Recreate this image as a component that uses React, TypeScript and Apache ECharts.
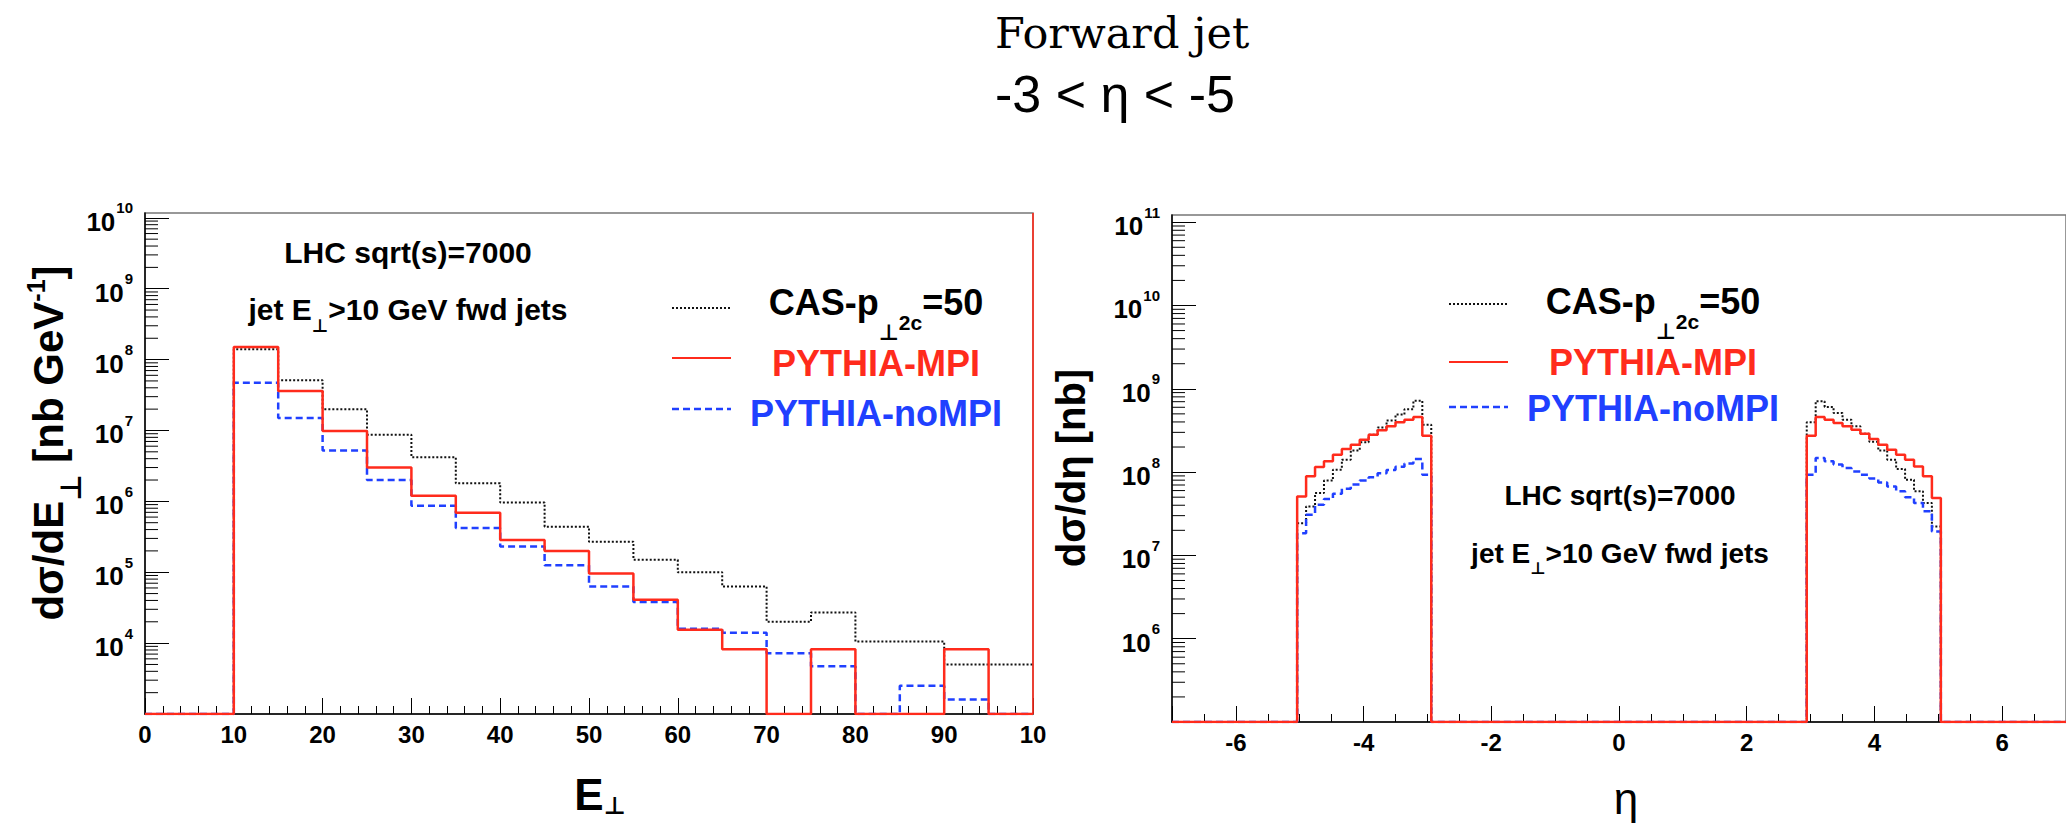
import React, { useEffect, useRef } from 'react';
import * as echarts from 'echarts';

// ---------------- data ----------------
// Left panel: E_perp histogram, 5 GeV bins from 0 to 100 (null = empty bin)
const etBinLowEdges = [0, 5, 10, 15, 20, 25, 30, 35, 40, 45, 50, 55, 60, 65, 70, 75, 80, 85, 90, 95];
const etBinWidth = 5;
const etCAS = [null, null, 1.4e8, 5.1e7, 2.0e7, 8.7e6, 4.2e6, 1.8e6, 9.6e5, 4.4e5, 2.7e5, 1.5e5, 1.0e5, 6.3e4, 2.0e4, 2.7e4, 1.05e4, 1.05e4, 5.0e3, 5.0e3];
const etMPI = [null, null, 1.5e8, 3.6e7, 9.8e6, 3.0e6, 1.2e6, 6.9e5, 2.85e5, 2.0e5, 9.6e4, 4.1e4, 1.55e4, 8.2e3, null, 8.2e3, null, null, 8.2e3, null];
const etNoMPI = [null, null, 4.7e7, 1.5e7, 5.2e6, 2.0e6, 8.7e5, 4.2e5, 2.3e5, 1.25e5, 6.3e4, 3.8e4, 1.6e4, 1.4e4, 7.2e3, 4.7e3, null, 2.5e3, 1.6e3, null];
const etXRange = [0, 100];
const etYRange = [1e3, 1.17e10];

// Right panel: eta histogram, bins of 0.14 in [-7, 7]; only the two forward humps are filled
const etaXRange = [-7, 7];
const etaYRange = [1e5, 1.22e11];
const etaBinWidth = 0.14;
const etaNegHumpStart = -5.04;
const etaPosHumpStart = 2.94;
const etaNegCAS = [2.44e7, 3.87e7, 5.6e7, 7.9e7, 1.07e8, 1.41e8, 1.82e8, 2.28e8, 2.81e8, 3.44e8, 4.15e8, 4.9e8, 5.7e8, 7.2e8, 3.7e8];
const etaNegMPI = [5.1e7, 8.9e7, 1.15e8, 1.35e8, 1.62e8, 1.89e8, 2.13e8, 2.45e8, 2.81e8, 3.17e8, 3.54e8, 3.96e8, 4.26e8, 4.59e8, 2.73e8];
const etaNegNoMPI = [1.85e7, 3.08e7, 4.06e7, 4.75e7, 5.5e7, 6.3e7, 7.1e7, 7.9e7, 8.7e7, 9.7e7, 1.06e8, 1.16e8, 1.27e8, 1.44e8, 9.3e7];
const etaPosCAS = [3.96e8, 7.1e8, 6.06e8, 5.13e8, 4.26e8, 3.54e8, 2.89e8, 2.32e8, 1.82e8, 1.41e8, 1.09e8, 8.1e7, 5.9e7, 4.25e7, 2.23e7];
const etaPosMPI = [2.73e8, 4.59e8, 4.26e8, 3.89e8, 3.54e8, 3.23e8, 2.89e8, 2.5e8, 2.13e8, 1.86e8, 1.62e8, 1.41e8, 1.17e8, 8.9e7, 4.9e7];
const etaPosNoMPI = [9.3e7, 1.48e8, 1.35e8, 1.23e8, 1.12e8, 1.02e8, 9.3e7, 8.4e7, 7.5e7, 6.7e7, 5.9e7, 5.0e7, 4.25e7, 3.4e7, 1.94e7];

const seriesNames = ['CAS-p⊥2c=50', 'PYTHIA-MPI', 'PYTHIA-noMPI'];
const etXTickLabels: Record<number, string> = { 100: '10' };

// ---------------- styling ----------------
const FONT = "'Liberation Sans', Arial, Helvetica, 'DejaVu Sans', sans-serif";
const RED = '#ff2b1c';
const BLUE = '#2040ff';
const BLACK = '#111111';

const r4 = (v: number) => Math.round(v * 10000) / 10000;

function histPoints(lowEdges: number[], width: number, values: (number | null)[], floor: number) {
  const pts: number[][] = lowEdges.map((e, i) => [e, values[i] ?? floor]);
  const last = lowEdges.length - 1;
  pts.push([lowEdges[last] + width, values[last] ?? floor]);
  return pts;
}

function etaPoints(neg: number[], pos: number[], floor: number) {
  const pts: number[][] = [[etaXRange[0], floor]];
  neg.forEach((v, i) => pts.push([r4(etaNegHumpStart + i * etaBinWidth), v]));
  pts.push([r4(etaNegHumpStart + neg.length * etaBinWidth), floor]);
  pos.forEach((v, i) => pts.push([r4(etaPosHumpStart + i * etaBinWidth), v]));
  pts.push([r4(etaPosHumpStart + pos.length * etaBinWidth), floor]);
  pts.push([etaXRange[1], floor]);
  return pts;
}

function logMinorTicks(min: number, max: number) {
  const out: number[] = [];
  for (let n = Math.floor(Math.log10(min)); n <= Math.ceil(Math.log10(max)); n++) {
    for (let k = 2; k <= 9; k++) {
      const v = k * Math.pow(10, n);
      if (v > min && v < max) out.push(v);
    }
  }
  return out;
}

const lineStyles = [
  { color: BLACK, width: 2, type: [2, 2] as number[] },
  { color: RED, width: 2.5, type: 'solid' as const },
  { color: BLUE, width: 2.5, type: [7, 4] as number[] },
];

function histSeries(name: string, idx: number, data: number[][], style: any, extra: any = {}) {
  return {
    type: 'line',
    name,
    xAxisIndex: idx,
    yAxisIndex: idx,
    data,
    step: 'end',
    symbol: 'none',
    showSymbol: false,
    lineStyle: { ...style, cap: 'butt' },
    silent: true,
    ...extra,
  };
}

function minorTickSeries(idx: number, xmin: number, vals: number[]) {
  return {
    type: 'custom',
    xAxisIndex: idx,
    yAxisIndex: idx,
    silent: true,
    clip: false,
    z: 5,
    data: vals.map((v) => [xmin, v]),
    renderItem: (_p: any, api: any) => {
      const pt = api.coord([api.value(0), api.value(1)]);
      return {
        type: 'line',
        shape: { x1: pt[0], y1: pt[1], x2: pt[0] + 13, y2: pt[1] },
        style: { stroke: '#000', lineWidth: 1 },
      };
    },
  };
}

const yLabelRich = {
  b: { fontSize: 26, fontWeight: 'bold', fontFamily: FONT, color: '#000', padding: [8, 0, 0, 0], verticalAlign: 'middle' },
  s: { fontSize: 15, fontWeight: 'bold', fontFamily: FONT, color: '#000', padding: [0, 0, 20, 1], verticalAlign: 'middle' },
};

function yAxis(idx: number, range: number[]) {
  return {
    type: 'log',
    gridIndex: idx,
    min: range[0],
    max: range[1],
    logBase: 10,
    axisLine: { show: true, onZero: false, lineStyle: { color: '#000', width: 1.5 } },
    axisTick: { show: true, inside: true, length: 24, lineStyle: { color: '#000', width: 1 } },
    minorTick: { show: false },
    splitLine: { show: false },
    axisLabel: {
      show: true,
      margin: 12,
      showMinLabel: false,
      showMaxLabel: false,
      formatter: (v: number) => {
        const n = Math.log10(v);
        const r = Math.round(n);
        if (Math.abs(n - r) > 1e-6 || v <= range[0] * 1.0001) return '';
        return `{b|10}{s|${r}}`;
      },
      rich: yLabelRich,
    },
  };
}

function richText(size: number, color: string, weight = 'bold') {
  return {
    a: { fontSize: size, fontWeight: weight, fontFamily: FONT, fill: color, verticalAlign: 'middle' },
  };
}

function textEl(x: number, y: number, text: string, rich: any, extra: any = {}, align = 'center') {
  return {
    type: 'text',
    x,
    y,
    silent: true,
    ...extra,
    style: { text, rich, align, verticalAlign: 'middle' },
  };
}

function annotation(cx: number, y1: number, y2: number, size: number) {
  const rich = {
    ...richText(size, '#000'),
    s: { fontSize: size * 0.6, fontWeight: 'bold', fontFamily: FONT, fill: '#000', padding: [size * 1.1, 0, 0, 0], verticalAlign: 'middle' },
  };
  return [
    textEl(cx, y1, '{a|LHC sqrt(s)=7000}', rich),
    textEl(cx, y2, '{a|jet E}{s|⊥}{a|>10 GeV fwd jets}', rich),
  ];
}

function legendBlock(lineX1: number, lineX2: number, lineYs: number[], textCx: number, textYs: number[]) {
  const size = 36;
  const casRich = {
    ...richText(size, '#000'),
    s1: { fontSize: 22, fontWeight: 'bold', fontFamily: "'DejaVu Sans', sans-serif", fill: '#000', padding: [60, 0, 0, 0], verticalAlign: 'middle' },
    s2: { fontSize: 21, fontWeight: 'bold', fontFamily: FONT, fill: '#000', padding: [40, 0, 0, 0], verticalAlign: 'middle' },
  };
  const els: any[] = [];
  lineStyles.forEach((ls, i) => {
    els.push({
      type: 'line',
      silent: true,
      shape: { x1: lineX1, y1: lineYs[i], x2: lineX2, y2: lineYs[i] },
      style: { stroke: ls.color, lineWidth: i === 1 ? 2 : ls.width, lineDash: Array.isArray(ls.type) ? ls.type : null },
    });
  });
  els.push(textEl(textCx, textYs[0], '{a|CAS-p}{s1|⊥}{s2|2c}{a|=50}', casRich));
  els.push(textEl(textCx, textYs[1], '{a|PYTHIA-MPI}', richText(size, RED)));
  els.push(textEl(textCx, textYs[2], '{a|PYTHIA-noMPI}', richText(size, BLUE)));
  return els;
}

function buildOption() {
  const etFloor = etYRange[0];
  const etaFloor = etaYRange[0];
  const etData = [etCAS, etMPI, etNoMPI].map((v) => histPoints(etBinLowEdges, etBinWidth, v, etFloor));
  const etaData = [
    etaPoints(etaNegCAS, etaPosCAS, etaFloor),
    etaPoints(etaNegMPI, etaPosMPI, etaFloor),
    etaPoints(etaNegNoMPI, etaPosNoMPI, etaFloor),
  ];
  const drawOrder = [0, 2, 1]; // black, blue, red on top

  const series: any[] = [];
  drawOrder.forEach((i) => {
    series.push(
      histSeries(seriesNames[i], 0, etData[i], lineStyles[i],
        i === 1
          ? {
              markLine: {
                silent: true,
                symbol: 'none',
                label: { show: false },
                lineStyle: { color: RED, width: 2, type: 'solid', opacity: 0.8 },
                data: [{ xAxis: etXRange[1] }],
              },
            }
          : {})
    );
  });
  drawOrder.forEach((i) => series.push(histSeries(seriesNames[i], 1, etaData[i], lineStyles[i])));
  series.push(minorTickSeries(0, etXRange[0], logMinorTicks(etYRange[0], etYRange[1])));
  series.push(minorTickSeries(1, etaXRange[0], logMinorTicks(etaYRange[0], etaYRange[1])));

  const xLabel = { show: true, margin: 8, fontSize: 24, fontWeight: 'bold', fontFamily: FONT, color: '#000' };
  const sub = (size: number, pad: number) => ({
    fontSize: size, fontWeight: 'bold', fontFamily: "'DejaVu Sans', sans-serif", fill: '#000', padding: [pad, 0, 0, 0], verticalAlign: 'middle',
  });
  const sup = (size: number, pad: number) => ({
    fontSize: size, fontWeight: 'bold', fontFamily: FONT, fill: '#000', padding: [0, 0, pad, 0], verticalAlign: 'middle',
  });

  const graphic: any[] = [
    // page title
    {
      type: 'text', x: 995, y: 33, silent: true,
      style: { text: 'Forward jet', fontSize: 43, fontFamily: "'DejaVu Serif', 'Liberation Serif', serif", fill: '#000', align: 'left', verticalAlign: 'middle' },
    },
    {
      type: 'text', x: 995, y: 94, silent: true,
      style: { text: '-3 < η < -5', fontSize: 52, fontFamily: FONT, fill: '#000', align: 'left', verticalAlign: 'middle' },
    },
    // y-axis titles
    textEl(48, 443, '{a|dσ/dE}{sub|⊥}{a| [nb GeV}{sup|-1}{a|]}',
      { ...richText(42, '#000'), sub: sub(29, 46), sup: sup(25, 25) }, { rotation: Math.PI / 2 }),
    textEl(1071, 468, '{a|dσ/dη [nb]}', richText(40, '#000'), { rotation: Math.PI / 2 }),
    // x-axis titles
    textEl(600, 794, '{a|E}{sub|⊥}', { ...richText(44, '#000'), sub: sub(24, 24) }),
    textEl(1626, 798, '{a|η}', richText(44, '#000', 'normal')),
    ...annotation(408, 252, 309, 30),
    ...annotation(1620, 495, 553, 28),
    ...legendBlock(672, 731, [308, 358, 409], 876, [302, 363, 413]),
    ...legendBlock(1449, 1508, [304, 362, 407], 1653, [301, 362, 408]),
  ];

  return {
    animation: false,
    backgroundColor: '#ffffff',
    grid: [
      { left: 145, top: 213, width: 888, height: 501, show: true, borderColor: '#777', borderWidth: 1.5, containLabel: false },
      { left: 1172, top: 215, width: 900, height: 507, show: true, borderColor: '#777', borderWidth: 1.5, containLabel: false },
    ],
    xAxis: [
      {
        type: 'value', gridIndex: 0, min: etXRange[0], max: etXRange[1], interval: 10,
        axisLine: { show: true, onZero: false, lineStyle: { color: '#000', width: 1.5 } },
        axisTick: { show: true, inside: true, length: 16, lineStyle: { color: '#000', width: 1 } },
        minorTick: { show: true, splitNumber: 5, length: 8, lineStyle: { color: '#000', width: 1 } },
        splitLine: { show: false },
        axisLabel: { ...xLabel, formatter: (v: number) => etXTickLabels[v] ?? String(v) },
      },
      {
        type: 'value', gridIndex: 1, min: etaXRange[0], max: etaXRange[1], splitNumber: 7,
        axisLine: { show: true, onZero: false, lineStyle: { color: '#000', width: 1.5 } },
        axisTick: { show: true, inside: true, length: 16, lineStyle: { color: '#000', width: 1 } },
        minorTick: { show: true, splitNumber: 4, length: 8, lineStyle: { color: '#000', width: 1 } },
        splitLine: { show: false },
        axisLabel: { ...xLabel, showMinLabel: false, showMaxLabel: false },
      },
    ],
    yAxis: [yAxis(0, etYRange), yAxis(1, etaYRange)],
    series,
    graphic,
  };
}

export default function App() {
  const ref = useRef<HTMLDivElement>(null);
  useEffect(() => {
    if (!ref.current) return;
    const chart = echarts.init(ref.current, null, { renderer: 'svg' });
    chart.setOption(buildOption() as any);
    return () => chart.dispose();
  }, []);
  return (
    <div
      ref={ref}
      style={{ position: 'absolute', left: 0, top: 0, width: 2066, height: 827, background: '#fff' }}
    />
  );
}
